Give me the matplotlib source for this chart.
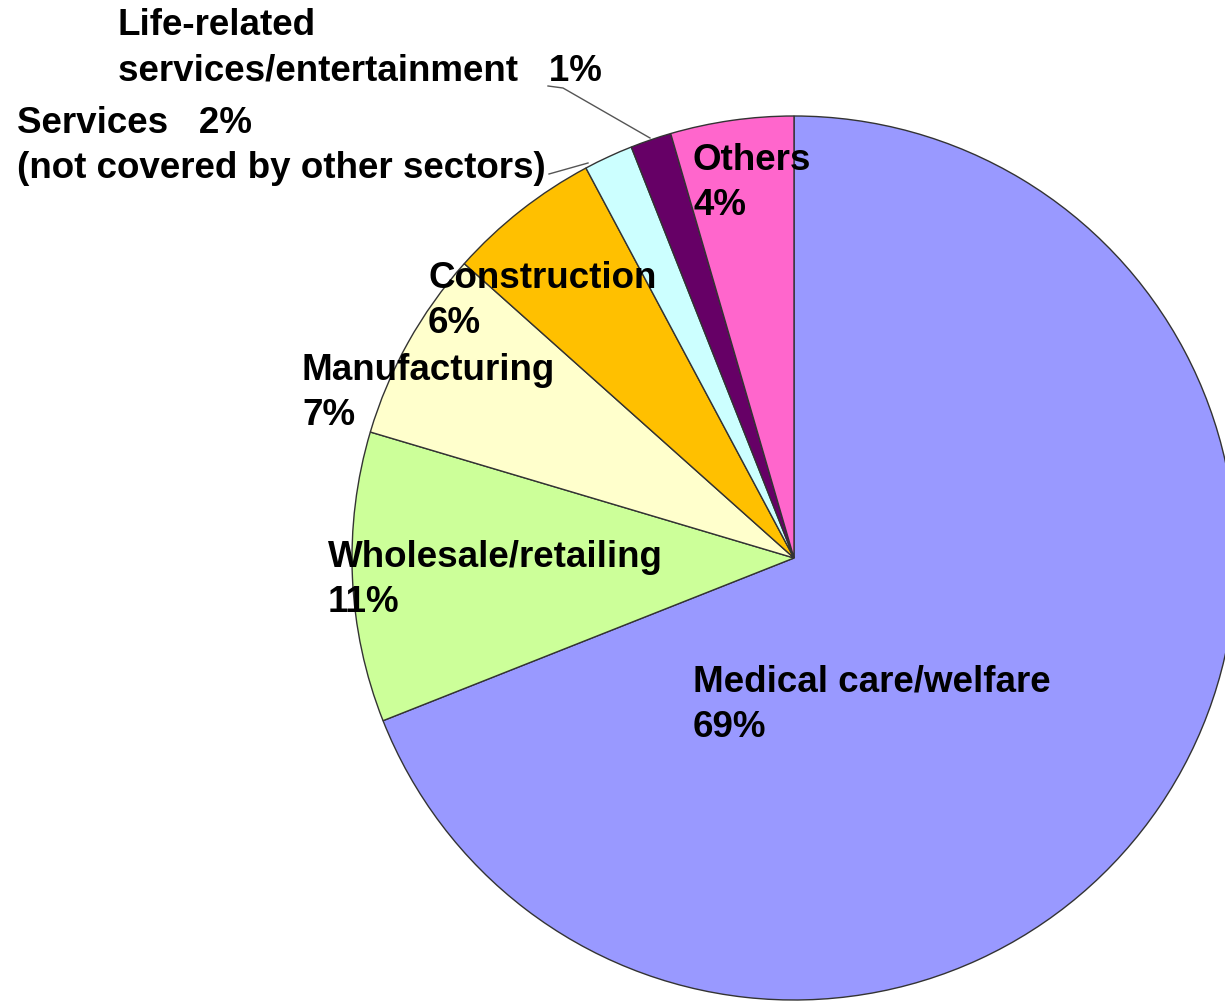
import matplotlib.pyplot as plt

# Sector shares (clockwise from 12 o'clock)
sectors = ["Medical care/welfare", "Wholesale/retailing", "Manufacturing",
           "Construction", "Services", "Life-related services/entertainment",
           "Others"]
shares = [69.0, 10.6, 7.0, 5.6, 1.8, 1.5, 4.5]
colors = ["#9999FF", "#CCFF99", "#FFFFCC", "#FFC000", "#CCFFFF", "#660066", "#FF66CC"]

# Label text shown on the chart
label_text = [
    "Medical care/welfare\n69%",
    "Wholesale/retailing\n11%",
    "Manufacturing\n7%",
    "Construction\n6%",
    "Services   2%\n(not covered by other sectors)",
    "Life-related\nservices/entertainment   1%",
    "Others\n4%",
]

W, H = 1225, 1001
fig = plt.figure(figsize=(W / 100, H / 100), dpi=100)
ax = fig.add_axes([0, 0, 1, 1])

ax.pie(shares, colors=colors, startangle=90, counterclock=False,
       center=(794, H - 558), radius=442,
       wedgeprops=dict(edgecolor="#333333", linewidth=1.0))

ax.set_xlim(0, W)
ax.set_ylim(0, H)
ax.axis("off")

# label anchors (left x, vertical centre of block) in pixel coords from top
label_pos = [(693, 705), (328, 580), (302, 393), (428, 301), (17, 146), (118, 48), (693, 183)]
for txt, (x, y) in zip(label_text, label_pos):
    ax.text(x, H - y, txt, ha="left", va="center", fontsize=26.5,
            fontweight="bold", family="Liberation Sans", linespacing=1.38,
            color="black")

# leader lines for the two thin slices
ax.plot([548, 563, 650], [H - 86, H - 88, H - 138], color="#555555", lw=1)
ax.plot([549, 588], [H - 174, H - 163], color="#555555", lw=1)

fig.savefig("out.png", dpi=100)
